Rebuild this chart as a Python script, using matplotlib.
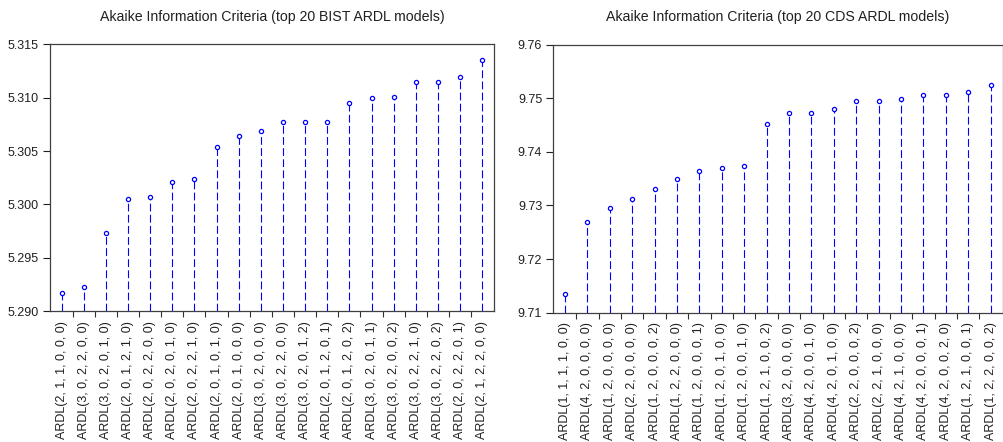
import numpy as np
import matplotlib
matplotlib.use("Agg")
import matplotlib.pyplot as plt

plt.rcParams['font.family'] = ['Liberation Sans', 'DejaVu Sans']

# top 20 BIST ARDL models and their AIC
bist_models = [
    "ARDL(2, 1, 1, 0, 0, 0)", "ARDL(3, 0, 2, 2, 0, 0)", "ARDL(3, 0, 2, 0, 1, 0)",
    "ARDL(2, 0, 1, 2, 1, 0)", "ARDL(2, 0, 2, 2, 0, 0)", "ARDL(2, 0, 2, 0, 1, 0)",
    "ARDL(2, 0, 2, 2, 1, 0)", "ARDL(2, 0, 1, 0, 1, 0)", "ARDL(2, 0, 1, 0, 0, 0)",
    "ARDL(3, 0, 2, 0, 0, 0)", "ARDL(3, 0, 2, 2, 0, 0)", "ARDL(3, 0, 2, 0, 1, 2)",
    "ARDL(2, 0, 1, 2, 0, 1)", "ARDL(2, 0, 1, 2, 0, 2)", "ARDL(3, 0, 2, 0, 1, 1)",
    "ARDL(3, 0, 2, 0, 0, 2)", "ARDL(3, 0, 2, 2, 1, 0)", "ARDL(3, 0, 2, 2, 0, 2)",
    "ARDL(2, 0, 2, 2, 0, 1)", "ARDL(2, 1, 2, 2, 0, 0)",
]
bist_aic = [5.2917, 5.2923, 5.2973, 5.3005, 5.3007, 5.3021, 5.3024, 5.3054,
            5.3064, 5.3069, 5.3077, 5.3077, 5.3077, 5.3095, 5.3100, 5.3101,
            5.3115, 5.3115, 5.3119, 5.3135]
bist_ticks = [5.290, 5.295, 5.300, 5.305, 5.310, 5.315]

# top 20 CDS ARDL models and their AIC
cds_models = [
    "ARDL(1, 1, 1, 1, 0, 0)", "ARDL(4, 2, 0, 0, 0, 0)", "ARDL(1, 2, 0, 0, 0, 0)",
    "ARDL(2, 2, 0, 0, 0, 0)", "ARDL(1, 2, 0, 0, 0, 2)", "ARDL(1, 2, 2, 0, 0, 0)",
    "ARDL(1, 2, 0, 0, 0, 1)", "ARDL(1, 2, 0, 1, 0, 0)", "ARDL(1, 2, 0, 0, 1, 0)",
    "ARDL(1, 2, 1, 0, 0, 2)", "ARDL(3, 2, 0, 0, 0, 0)", "ARDL(4, 2, 0, 0, 1, 0)",
    "ARDL(4, 2, 0, 1, 0, 0)", "ARDL(2, 2, 0, 0, 0, 2)", "ARDL(2, 2, 1, 0, 0, 0)",
    "ARDL(4, 2, 1, 0, 0, 0)", "ARDL(4, 2, 0, 0, 0, 1)", "ARDL(4, 2, 0, 0, 2, 0)",
    "ARDL(1, 2, 1, 0, 0, 1)", "ARDL(1, 2, 2, 0, 0, 2)",
]
cds_aic = [9.7135, 9.7269, 9.7296, 9.7313, 9.7330, 9.7349, 9.7365, 9.7370,
           9.7373, 9.7452, 9.7472, 9.7472, 9.7480, 9.7495, 9.7495, 9.7498,
           9.7506, 9.7506, 9.7511, 9.7524]
cds_ticks = [9.71, 9.72, 9.73, 9.74, 9.75, 9.76]

panels = [
    ("Akaike Information Criteria (top 20 BIST ARDL models)", bist_models, bist_aic, bist_ticks, "%.3f"),
    ("Akaike Information Criteria (top 20 CDS ARDL models)", cds_models, cds_aic, cds_ticks, "%.2f"),
]
boxes = [[0.0498, 0.2960, 0.4424, 0.6037], [0.5511, 0.2926, 0.4476, 0.6063]]

fig = plt.figure(figsize=(10.04, 4.42), dpi=100)

for (title, models, aic, ticks, fmt), box in zip(panels, boxes):
    ax = fig.add_axes(box)
    x = np.arange(len(models))
    lo, hi = ticks[0], ticks[-1]
    # dashed stems from the bottom of the axis up to each value
    ax.vlines(x, lo, aic, colors="#0000ff", linewidth=0.8, linestyles=(0, (7, 3)))
    ax.plot(x, aic, "o", markersize=3.0, markerfacecolor="white",
            markeredgecolor="#0000ff", markeredgewidth=0.9, linestyle="none")
    ax.set_xlim(-0.52, len(models) - 0.46)
    ax.set_ylim(lo, hi)
    ax.set_yticks(ticks)
    ax.set_yticklabels([fmt % t for t in ticks])
    ax.set_xticks(x)
    ax.set_xticklabels(models, rotation=90)
    ax.set_xticks(np.arange(len(models) - 1) + 0.5, minor=True)
    ax.tick_params(axis="x", which="major", length=0, pad=7, labelsize=9, colors="#202020")
    ax.tick_params(axis="x", which="minor", length=4, width=0.8, direction="out", color="#303030")
    ax.tick_params(axis="y", length=5, width=0.8, direction="out", pad=3, labelsize=9,
                   colors="#202020")
    for s in ax.spines.values():
        s.set_color("#404040")
        s.set_linewidth(0.9)
    ax.set_title(title, fontsize=10.2, pad=17, color="#202020")

fig.savefig("out.png", dpi=100)
